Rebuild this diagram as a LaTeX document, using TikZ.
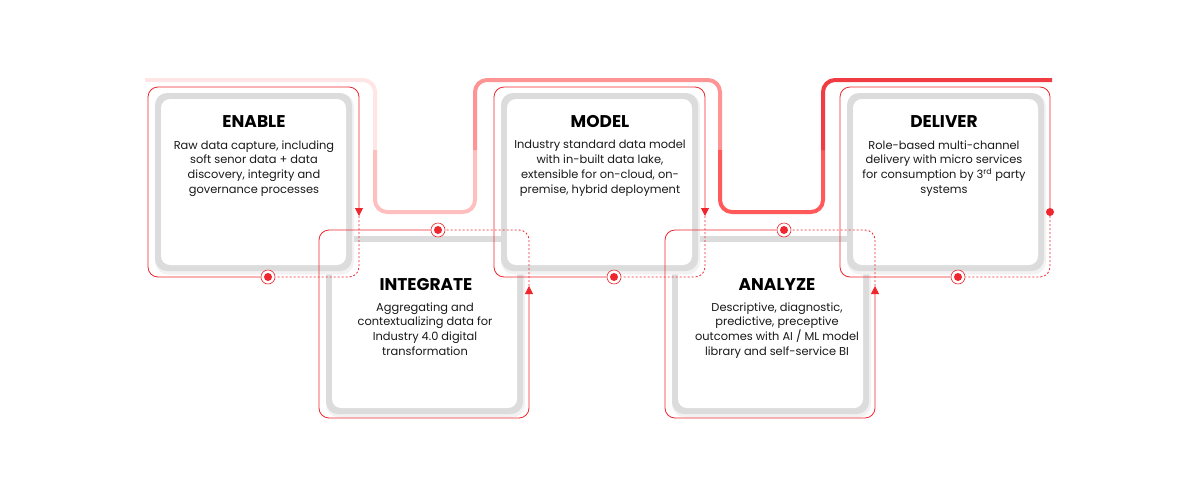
\documentclass[tikz,border=0pt]{standalone}
\usepackage{fontspec}
\setmainfont{Poppins}
\usetikzlibrary{arrows.meta}
\definecolor{abbred}{HTML}{F0262E}
\definecolor{frameg}{HTML}{DCDCDC}
\tikzset{
  frame/.style={fill=frameg,rounded corners=12pt,minimum width=197pt,minimum height=178pt,inner sep=0pt},
  shadowbox/.style={fill=black!5,rounded corners=13pt,minimum width=199pt,minimum height=181pt,inner sep=0pt},
  inner/.style={fill=white,rounded corners=9pt,minimum width=185pt,minimum height=166pt,inner sep=0pt},
  redline/.style={draw=abbred,line width=0.8pt,rounded corners=10pt},
  reddash/.style={draw=abbred,line width=0.8pt,dash pattern=on 2pt off 2pt,rounded corners=10pt},
  ring/.style={circle,draw=abbred,fill=white,line width=0.6pt,minimum size=14pt,inner sep=0pt},
  core/.style={circle,fill=abbred,minimum size=8pt,inner sep=0pt},
  ttl/.style={font=\bfseries\fontsize{17}{20}\selectfont,text=black},
  body/.style={font=\fontsize{11.4}{14.7}\selectfont,align=center,text=black!90,anchor=north},
  tip/.style={-{Triangle[width=8pt,length=8pt]}},
  wave/.style={line width=4pt,rounded corners=12pt}
}
\begin{document}
\begin{tikzpicture}[x=1pt,y=-1pt]
\useasboundingbox (0,0) rectangle (1200,480);
% background wave line
\draw[wave,red!10] (145,80) -- (375,80) -- (375,150);
\draw[wave,red!25] (375,150) -- (375,212) -- (475,212) -- (475,150);
\draw[wave,red!42] (475,150) -- (475,80) -- (720,80) -- (720,150);
\draw[wave,red!65] (720,150) -- (720,212) -- (823,212) -- (823,150);
\draw[wave,abbred!90] (823,150) -- (823,80) -- (1052,80);
% lower boxes
\foreach \n/\dx in {int/0,ana/346}{
  \node[shadowbox] at (425.5+\dx,327) {};
  \node[frame] (\n f) at (424.5+\dx,325) {};
  \node[inner] (\n) at (424.5+\dx,325) {};
}
% upper boxes
\foreach \n/\dx in {ena/0,mod/346,del/692}{
  \node[shadowbox] at (254.5+\dx,184) {};
  \node[frame] (\n f) at (253.5+\dx,182) {};
  \node[inner] (\n) at (253.5+\dx,182) {};
}
% texts
\node[ttl] (t1) at (254,122) {ENABLE};
\node[body] (b1) at (254,137) {Raw data capture, including\\soft senor data + data\\discovery, integrity and\\governance processes};
\node[ttl] (t2) at (426,285) {INTEGRATE};
\node[body] (b2) at (425,299) {Aggregating and\\contextualizing data for\\Industry 4.0 digital\\transformation};
\node[ttl] (t3) at (600,122) {MODEL};
\node[body] (b3) at (600,137) {Industry standard data model\\with in-built data lake,\\extensible for on-cloud, on-\\premise, hybrid deployment};
\node[ttl] (t4) at (777,285) {ANALYZE};
\node[body] (b4) at (777,299) {Descriptive, diagnostic,\\predictive, preceptive\\outcomes with AI / ML model\\library and self-service BI};
\node[ttl] (t5) at (944,122) {DELIVER};
\node[body] (b5) at (944,137) {Role-based multi-channel\\delivery with micro services\\for consumption by 3\textsuperscript{rd} party\\systems};
% red loops, upper (ENABLE, MODEL)
\foreach \n/\dx in {ena/0,mod/346}{
  \begin{scope}[xshift=\dx]
  \coordinate (\n a) at (359,216);
  \node[ring] (\n d) at (268,277) {};
  \draw[redline,tip] (\n d) -- (148,277) -- (148,87) -- (359,87) -- (\n a);
  \draw[reddash] (\n a) -- (359,277) -- (\n d);
  \node[core] at (\n d) {};
  \end{scope}
}
% lower (INTEGRATE, ANALYZE)
\foreach \n/\dx in {int/0,ana/346}{
  \begin{scope}[xshift=\dx]
  \coordinate (\n a) at (529,286);
  \node[ring] (\n d) at (438,230) {};
  \draw[redline,tip] (\n d) -- (319,230) -- (319,418) -- (529,418) -- (\n a);
  \draw[reddash] (\n a) -- (529,230) -- (\n d);
  \node[core] at (\n d) {};
  \end{scope}
}
% DELIVER loop
\node[core] (dele) at (1050,212) {};
\node[ring] (deld) at (958,277) {};
\draw[redline] (deld) -- (840,277) -- (840,87) -- (1050,87) -- (dele);
\draw[reddash] (dele) -- (1050,277) -- (deld);
\node[core] at (deld) {};
\end{tikzpicture}
\end{document}
